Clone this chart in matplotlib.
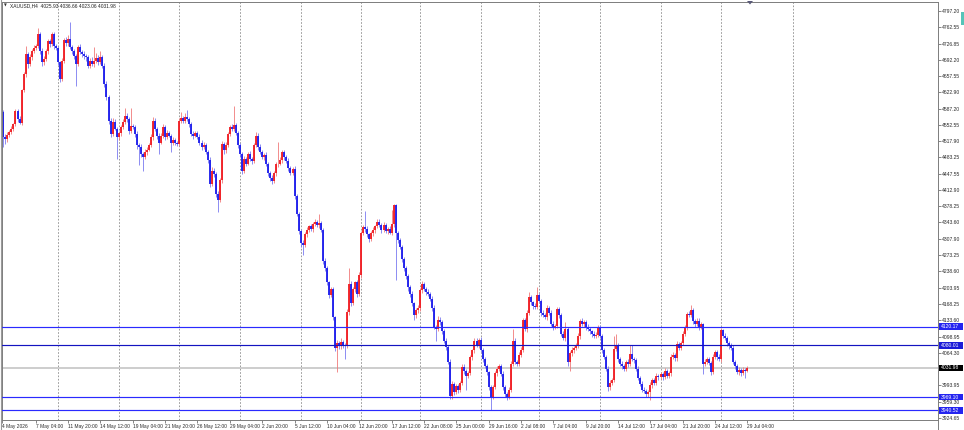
import matplotlib
matplotlib.use("Agg")
import matplotlib.pyplot as plt
import numpy as np
from matplotlib.patches import Rectangle, Polygon
from matplotlib.lines import Line2D
from matplotlib.transforms import blended_transform_factory

plt.rcParams['font.family'] = ['Liberation Sans', 'DejaVu Sans']

# ---------------- data ----------------
title_text = "XAUUSD,H4  4025.93 4036.66 4023.06 4031.98"
first_bar = 3
first_open = 4580
closes = [
    # week 4 May
    4528, 4522, 4532, 4538, 4545, 4555, 4582, 4565, 4558, 4627, 4662, 4705, 4684, 4698, 4712, 4718, 4722, 4748, 4712, 4687,
    4695, 4712, 4732, 4726, 4748, 4722, 4718,
    # week 11 May
    4687, 4652, 4690, 4734, 4728, 4737, 4720, 4712, 4700, 4684, 4720, 4710, 4705, 4700, 4698, 4680, 4690, 4684, 4690, 4697,
    4688, 4698, 4680, 4640, 4612, 4562, 4534, 4560, 4545, 4527,
    # week 18 May
    4535, 4548, 4560, 4573, 4565, 4540, 4550, 4548, 4534, 4510, 4505, 4490, 4484, 4495, 4500, 4510, 4527, 4562, 4545, 4530,
    4515, 4530, 4548, 4527, 4535, 4530, 4515, 4520, 4515, 4512,
    # week 25 May
    4562, 4568, 4562, 4570, 4565, 4555, 4534, 4530, 4535, 4528, 4515, 4505, 4510, 4495, 4478, 4427, 4455, 4448, 4405, 4392,
    4434, 4512, 4498, 4510, 4534, 4548, 4545, 4552, 4535, 4510,
    # week 1 Jun
    4490, 4455, 4480, 4470, 4490, 4480, 4475, 4510, 4530, 4505, 4495, 4485, 4488, 4470, 4450, 4440, 4432, 4450, 4468, 4470,
    4478, 4494, 4483, 4475, 4460, 4450, 4458, 4400, 4362, 4326,
    # week 8 Jun
    4300, 4295, 4318, 4328, 4335, 4330, 4340, 4345, 4338, 4342, 4328, 4262, 4245, 4215, 4188, 4200, 4140, 4075, 4085, 4078,
    4088, 4080, 4078, 4151, 4212, 4170, 4200, 4215, 4190, 4230,
    # week 15 Jun
    4320, 4334, 4330, 4318, 4308, 4320, 4328, 4335, 4345, 4338, 4328, 4338, 4325, 4330, 4322, 4340, 4380, 4320, 4305, 4292,
    4265, 4245, 4228, 4205, 4190, 4170, 4145, 4155, 4160,
    # week 22 Jun
    4198, 4212, 4200, 4195, 4190, 4180, 4160, 4120, 4115, 4135, 4130, 4110, 4090, 4076, 4045, 3972, 3998, 3980, 3992, 3985,
    4000, 4034, 4025, 4015, 4020, 4055, 4069, 4090, 4080, 4092,
    # week 29 Jun
    4070, 4050, 4035, 4022, 3990, 3970, 3990, 4020, 4030, 4035, 4019, 3990, 3975, 3970, 3985, 4041, 4090, 4045, 4040, 4060,
    4070, 4134, 4115, 4150, 4184, 4172, 4165, 4163, 4187,
    # week 6 Jul
    4176, 4150, 4145, 4140, 4160, 4150, 4126, 4120, 4122, 4157, 4145, 4105, 4095, 4115, 4044, 4063, 4070, 4075, 4080, 4100,
    4133, 4125, 4130, 4120, 4115, 4110, 4105, 4100, 4103, 4119,
    # week 13 Jul
    4100, 4069, 4055, 4030, 3990, 4000, 4005, 4073, 4080, 4050, 4040, 4035, 4030, 4045, 4040, 4062, 4050, 4048, 4030, 4010,
    3998, 3985, 3982, 3975, 3980, 3995, 4005, 4000, 4015, 4012,
    # week 20 Jul
    4018, 4012, 4025, 4015, 4020, 4055, 4060, 4052, 4083, 4075, 4085, 4105, 4119, 4148, 4145, 4155, 4132, 4125, 4133, 4120,
    4125, 4041, 4045, 4050, 4042, 4023, 4055, 4065, 4055, 4050,
    # week 27 Jul
    4112, 4100, 4095, 4085, 4078, 4075, 4045, 4035, 4022, 4028, 4020, 4027, 4025.93, 4031.98,
]
upper_wicks = [
    4, 5, 6, 4, 5, 3, 5, 4, 6, 3, 4, 18, 5, 6, 4, 7, 5, 12, 4, 5, 6, 4, 5, 6, 4, 5, 4,
    5, 4, 6, 5, 7, 8, 36, 5, 4, 6, 5, 7, 4, 6, 5, 4, 6, 8, 30, 10, 5, 14, 4, 5, 6, 4, 5, 8, 5, 4,
    5, 4, 6, 17, 5, 4, 40, 5, 4, 6, 5, 7, 4, 6, 5, 4, 6, 8, 5, 4, 6, 5, 7, 4, 6, 5, 4, 6, 5, 4,
    5, 12, 4, 8, 15, 5, 4, 6, 5, 4, 6, 5, 7, 4, 5, 6, 8, 5, 4, 6, 5, 7, 5, 6, 4, 5, 6, 42, 5, 4,
    5, 4, 6, 5, 4, 6, 5, 4, 7, 5, 6, 4, 5, 6, 4, 5, 6, 4, 5, 46, 5, 6, 4, 5, 6, 4, 5, 6, 4, 5,
    4, 5, 6, 5, 4, 6, 5, 7, 4, 20, 5, 4, 6, 5, 4, 6, 5, 4, 6, 5, 7, 4, 5, 6, 35, 5, 6, 4, 5, 7,
    5, 4, 35, 5, 4, 6, 5, 4, 7, 5, 4, 6, 5, 4, 6, 30, 3, 4, 5, 6, 4, 5, 6, 4, 5, 6, 4, 5, 6,
    5, 6, 4, 5, 6, 4, 5, 6, 4, 7, 5, 4, 6, 5, 4, 6, 5, 4, 6, 5, 4, 6, 5, 4, 6, 5, 4, 6, 5, 4,
    5, 4, 6, 5, 4, 6, 5, 4, 6, 5, 4, 6, 5, 4, 6, 5, 25, 6, 4, 5, 6, 4, 5, 6, 10, 5, 4, 6, 18,
    5, 4, 6, 5, 6, 4, 5, 6, 4, 5, 6, 4, 5, 15, 4, 5, 6, 4, 5, 6, 4, 5, 5, 4, 6, 5, 4, 6, 5, 4,
    4, 5, 6, 4, 5, 6, 4, 27, 25, 5, 4, 6, 5, 4, 6, 18, 18, 4, 5, 6, 4, 5, 6, 4, 5, 6, 4, 5, 6, 4,
    5, 4, 6, 5, 4, 6, 5, 4, 6, 5, 4, 6, 5, 4, 6, 11, 5, 4, 6, 5, 6, 4, 5, 6, 4, 5, 6, 4, 5, 6,
    5, 4, 6, 5, 4, 6, 5, 4, 6, 5, 4, 6, 5, 4.68,
]
lower_wicks = [
    23, 10, 6, 5, 4, 6, 5, 6, 4, 5, 4, 6, 8, 5, 6, 4, 5, 4, 6, 8, 5, 4, 6, 5, 4, 6, 5,
    6, 8, 5, 4, 6, 5, 4, 6, 5, 47, 5, 4, 6, 5, 7, 6, 5, 4, 6, 5, 6, 4, 5, 6, 5, 8, 6, 5, 4, 47,
    6, 5, 4, 6, 5, 7, 5, 4, 6, 8, 39, 6, 29, 5, 6, 4, 5, 6, 5, 7, 25, 4, 5, 6, 5, 4, 20, 5, 6, 5,
    5, 4, 6, 5, 4, 6, 5, 7, 4, 6, 5, 6, 4, 5, 6, 8, 5, 6, 7, 26, 5, 6, 8, 5, 4, 5, 6, 5, 4, 6,
    6, 7, 5, 6, 4, 5, 6, 4, 5, 6, 4, 5, 7, 5, 6, 8, 5, 4, 6, 5, 4, 6, 5, 4, 6, 5, 4, 6, 5, 8,
    10, 22, 5, 6, 4, 5, 6, 4, 5, 6, 4, 8, 6, 5, 7, 5, 6, 8, 52, 6, 5, 6, 27, 4, 5, 6, 4, 5, 6, 4,
    5, 4, 6, 5, 6, 4, 5, 6, 4, 5, 6, 4, 5, 6, 4, 5, 6, 100, 6, 5, 7, 6, 5, 8, 6, 5, 10, 6, 5,
    6, 5, 4, 6, 5, 4, 6, 5, 25, 4, 6, 5, 4, 6, 5, 6, 8, 6, 5, 7, 4, 5, 6, 30, 5, 4, 6, 5, 4, 6,
    5, 6, 4, 5, 6, 29, 5, 4, 6, 5, 4, 6, 5, 8, 6, 4, 5, 6, 4, 5, 6, 4, 5, 6, 4, 5, 6, 4, 5,
    4, 6, 5, 4, 6, 5, 4, 6, 5, 4, 6, 5, 4, 6, 8, 18, 5, 6, 4, 5, 6, 4, 5, 6, 4, 5, 6, 4, 5, 6,
    5, 6, 4, 5, 8, 6, 5, 4, 6, 5, 4, 6, 5, 4, 6, 5, 4, 6, 5, 4, 6, 5, 4, 6, 5, 18, 6, 5, 4, 6,
    4, 6, 5, 4, 6, 5, 4, 6, 5, 4, 6, 5, 4, 6, 5, 4, 6, 5, 4, 6, 5, 22, 6, 4, 5, 6, 4, 5, 6, 4,
    6, 5, 4, 6, 5, 4, 6, 5, 4, 6, 5, 4, 15, 2.87,
]

date_labels = ["4 May 2026", "7 May 04:00", "11 May 20:00", "14 May 12:00", "19 May 04:00", "21 May 20:00",
               "26 May 12:00", "29 May 04:00", "2 Jun 20:00", "5 Jun 12:00", "10 Jun 04:00", "12 Jun 20:00",
               "17 Jun 12:00", "22 Jun 08:00", "25 Jun 00:00", "29 Jun 16:00", "2 Jul 08:00", "7 Jul 04:00",
               "9 Jul 20:00", "14 Jul 12:00", "17 Jul 04:00", "21 Jul 20:00", "24 Jul 12:00", "29 Jul 04:00"]
date_label_bars = [2.4, 19, 35, 51, 67, 83, 99, 115, 131, 147, 163, 179, 195, 211, 227, 243, 259, 275,
                   291, 307, 323, 339, 355, 371]
grid_bars = [30, 60, 90, 120, 150, 180, 209, 239, 268, 298, 328, 358, 393.5]

price_ticks = [4797.20, 4762.55, 4726.85, 4692.20, 4657.55, 4622.90, 4587.20, 4552.55, 4517.90, 4483.25,
               4447.55, 4412.90, 4378.25, 4343.60, 4307.90, 4273.25, 4238.60, 4203.95, 4168.25, 4133.60,
               4098.95, 4064.30, 3993.95, 3959.30, 3924.65]

level_values = [4120.17, 4080.01, 3969.10, 3940.52]
level_line_colors = ["#2a2aff", "#1414c0", "#2a2aff", "#2a2aff"]
level_box_colors = ["#2424f0", "#1c1cd8", "#2424f0", "#2424f0"]
last_price = 4031.98

# ---------------- layout ----------------
W, H = 964, 430
fig = plt.figure(figsize=(W / 100, H / 100), dpi=100)
fig.patch.set_facecolor("white")
L_px, R_px, T_px, B_px = 2, 938, 2, 420
ax = fig.add_axes([L_px / W, 1 - B_px / H, (R_px - L_px) / W, (B_px - T_px) / H])
ax.set_facecolor("white")

PX_PER_BAR = 2.022
X0_PX = -2.7
ax.set_xlim((L_px - X0_PX) / PX_PER_BAR, (R_px - X0_PX) / PX_PER_BAR)
PRICE_PER_PX = 2.145
REF_PRICE, REF_PX = 4797.20, 11.0
ax.set_ylim(REF_PRICE - (B_px - REF_PX) * PRICE_PER_PX, REF_PRICE + (REF_PX - T_px) * PRICE_PER_PX)

for s in ax.spines.values():
    s.set_color("#7c7c7c")
    s.set_linewidth(0.7)

# grid (weekly separators)
for gb in grid_bars:
    ax.axvline(gb, color="#8a8a8a", lw=0.6, ls=(0, (2, 2)), zorder=0.5)

# current price line
ax.axhline(last_price, color="#c9c9c9", lw=1.3, zorder=1)

# candles
n = min(len(closes), len(upper_wicks), len(lower_wicks))
c = np.array(closes[:n], dtype=float)
o = np.concatenate([[first_open], c[:-1]])
uw = np.array(upper_wicks[:n], dtype=float)
lw_ = np.array(lower_wicks[:n], dtype=float)
bars = np.arange(first_bar, first_bar + n)
top = np.maximum(o, c)
bot = np.minimum(o, c)
hi = top + uw
lo = bot - lw_
small = (top - bot) < 1.6
mid = (top + bot) / 2
top = np.where(small, mid + 0.8, top)
bot = np.where(small, mid - 0.8, bot)
up = c >= o
dn = ~up
RED, BLUE = "#f01c22", "#1c1cec"
RED_W, BLUE_W = "#f07a7a", "#7a7af0"
ax.vlines(bars[up], lo[up], hi[up], colors=RED_W, lw=0.6, zorder=2)
ax.vlines(bars[dn], lo[dn], hi[dn], colors=BLUE_W, lw=0.6, zorder=2)
ax.vlines(bars[up], bot[up], top[up], colors=RED, lw=1.32, zorder=2.1)
ax.vlines(bars[dn], bot[dn], top[dn], colors=BLUE, lw=1.32, zorder=2.1)

# horizontal levels
for v, col in zip(level_values, level_line_colors):
    ax.axhline(v, color=col, lw=0.85, zorder=3)

# ticks
ax.yaxis.tick_right()
ax.set_yticks(price_ticks)
ax.set_yticklabels([f"{v:.2f}" for v in price_ticks])
ax.tick_params(axis="y", length=2.2, width=0.5, color="#555555", pad=0.8,
               labelsize=3.6, labelcolor="#2a2a2a")
ax.set_xticks(date_label_bars)
ax.set_xticklabels(date_labels, ha="left")
ax.tick_params(axis="x", length=2.0, width=0.5, color="#555555", pad=0.6,
               labelsize=3.5, labelcolor="#2a2a2a")

# price label boxes on the price scale
trans = blended_transform_factory(fig.transFigure, ax.transData)
box_h = 6.4 * PRICE_PER_PX
box_x0 = (R_px + 0.5) / W
box_w = 24.5 / W
for v, col in zip(level_values + [last_price], level_box_colors + ["#000000"]):
    ax.add_patch(Rectangle((box_x0, v - box_h / 2), box_w, box_h, transform=trans,
                           facecolor=col, edgecolor="none", clip_on=False, zorder=6))
    ax.text((R_px + 2.5) / W, v, f"{v:.2f}", transform=trans, ha="left", va="center",
            fontsize=3.6, color="white", clip_on=False, zorder=7)

# window decorations
fig.add_artist(Line2D([0.6 / W, 0.6 / W], [0, 1], color="#9a9a9a", lw=0.8, transform=fig.transFigure))
fig.add_artist(Line2D([R_px / W, R_px / W], [0, 1 - B_px / H], color="#7c7c7c", lw=0.7,
                      transform=fig.transFigure))
fig.add_artist(Polygon([[747 / W, 1 - 1 / H], [753 / W, 1 - 1 / H], [750 / W, 1 - 4.5 / H]],
                       closed=True, facecolor="#5a5a78", edgecolor="none", transform=fig.transFigure))
fig.add_artist(Rectangle((961 / W, 1 - 25 / H), 3 / W, 13 / H, facecolor="#55c4b8",
                         edgecolor="none", transform=fig.transFigure))

# title
fig.text(4 / W, 1 - 5.6 / H, "\u25BC", fontsize=2.6, family="DejaVu Sans", color="#303030",
         va="center", ha="left")
fig.text(10 / W, 1 - 5.6 / H, title_text, fontsize=3.5, color="#202020", va="center", ha="left")

fig.savefig("out.png", dpi=100, facecolor="white")
